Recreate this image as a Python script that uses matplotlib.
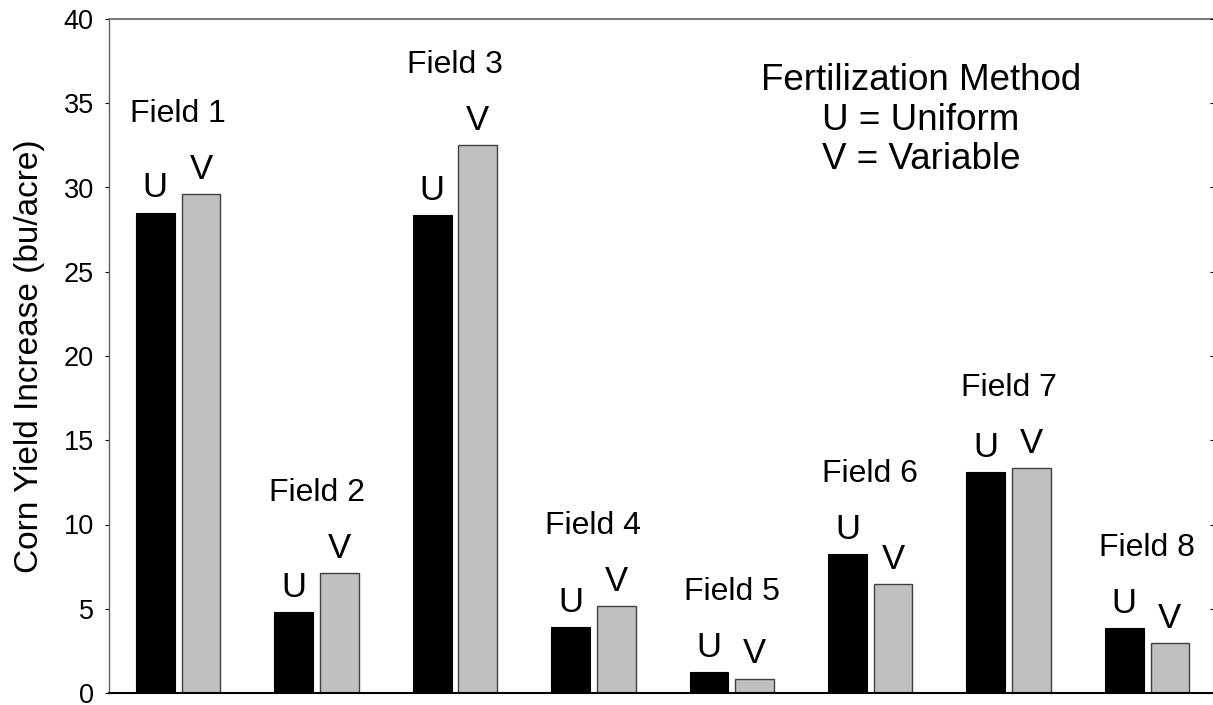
import matplotlib

matplotlib.use("Agg")
import matplotlib.pyplot as plt
import numpy as np

plt.rcParams["font.family"] = ["Liberation Sans", "DejaVu Sans"]

fields = ["Field 1", "Field 2", "Field 3", "Field 4", "Field 5", "Field 6", "Field 7", "Field 8"]
uniform = [28.5, 4.8, 28.35, 3.9, 1.25, 8.25, 13.1, 3.85]
variable = [29.6, 7.1, 32.5, 5.15, 0.85, 6.45, 13.35, 2.95]
y_ticks = [0, 5, 10, 15, 20, 25, 30, 35, 40]

fig = plt.figure(figsize=(12.13, 7.05), dpi=100)
ax = fig.add_axes([109 / 1213, 12 / 705, 1104.5 / 1213, 674 / 705])

x = np.arange(len(fields))
width = 0.28
off = 0.165

ax.bar(x - off, uniform, width, color="black", edgecolor="black", linewidth=0.8, zorder=2)
ax.bar(x + off, variable, width, color="#c0c0c0", edgecolor="#404040", linewidth=1.0, zorder=2)

for i, name in enumerate(fields):
    ax.annotate("U", (x[i] - off, uniform[i]), textcoords="offset points", xytext=(0, 11),
                ha="center", va="baseline", fontsize=25)
    ax.annotate("V", (x[i] + off, variable[i]), textcoords="offset points", xytext=(0, 11),
                ha="center", va="baseline", fontsize=25)
    top = max(uniform[i], variable[i])
    ax.annotate(name, (x[i], top), textcoords="offset points", xytext=(0, 52),
                ha="center", va="baseline", fontsize=23)

ax.text(0.735, 0.85, "Fertilization Method\nU = Uniform\nV = Variable",
        transform=ax.transAxes, ha="center", va="center", multialignment="center",
        fontsize=26.5, linespacing=1.18)

ax.set_xlim(-0.5, 7.48)
ax.set_ylim(0, 40)
ax.set_xticks([])
ax.set_yticks(y_ticks)
ax.tick_params(axis="y", direction="out", length=3, width=0.8, pad=8, labelsize=19.5, colors="black")
ax.set_ylabel("Corn Yield Increase (bu/acre)", fontsize=24)
ax.yaxis.set_label_coords(-0.058, 0.5)

ax.spines["right"].set_visible(False)
ax.spines["left"].set_color("#606060")
ax.spines["top"].set_color("#606060")
ax.spines["left"].set_linewidth(1.0)
ax.spines["top"].set_linewidth(1.2)
ax.spines["bottom"].set_color("black")
ax.spines["bottom"].set_linewidth(1.5)

# inward ticks along the right edge
ax2 = ax.twinx()
ax2.set_ylim(0, 40)
ax2.set_yticks(y_ticks)
ax2.tick_params(axis="y", direction="in", length=3, width=0.8, labelright=False)
for s in ax2.spines.values():
    s.set_visible(False)

fig.savefig("out.png", dpi=100)
